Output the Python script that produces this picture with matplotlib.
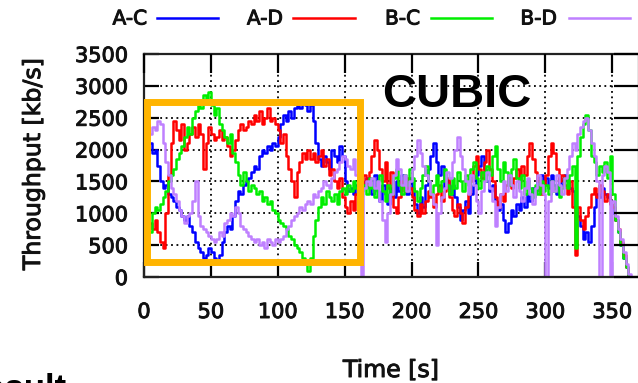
import numpy as np
import matplotlib
matplotlib.use("Agg")
import matplotlib.pyplot as plt
from matplotlib.patches import Rectangle
from matplotlib.lines import Line2D
import matplotlib.patheffects as pe

# time axis (s), 2-second resolution
time_s = list(range(0, 366, 2))

a_c = [2300, 2400, 2100, 1950, 2000, 1750, 1500, 1400, 1450, 1300,
       1250, 1200, 1100, 1050, 950, 900, 950, 800, 700, 550,
       450, 400, 300, 350, 450, 400, 300, 250, 350, 550,
       700, 800, 750, 950, 1200, 1350, 1300, 1450, 1500, 1550,
       1650, 1750, 1700, 1900, 2000, 1950, 2050, 2000, 2100, 2050,
       2200, 2400, 2550, 2450, 2600, 2500, 2650, 2700, 2650, 2750,
       2700, 2600, 2700, 2450, 2100, 1850, 1750, 1900, 1800, 1700,
       2000, 1900, 1800, 2050, 1900, 1500, 1350, 1400, 1300, 1450,
       1200, 1500, 1450, 1550, 1400, 1300, 1600, 1350, 1200, 1450,
       1300, 1150, 1400, 1250, 1500, 1350, 1600, 1450, 1300, 1550,
       1400, 1150, 1000, 1250, 1100, 1450, 1700, 1900, 2100, 1800,
       1600, 1750, 1400, 1500, 1300, 1450, 1250, 1100, 900, 1050,
       1200, 1000, 1300, 1450, 1600, 1750, 1900, 1700, 1500, 1350,
       1450, 1200, 1050, 1150, 900, 700, 850, 1050, 950, 1150,
       1050, 1250, 1100, 1300, 1200, 1400, 1350, 1500, 1600, 1450,
       1550, 1400, 1600, 1450, 1300, 1550, 1450, 1600, 1500, 1400,
       1350, 1100, 950, 800, 600, 700, 550, 800, 1100, 1300,
       1250, 1400, 1300, 1250, 1150, 1000, 900, 700, 500, 300,
       150, 0, 0]

a_d = [950, 1000, 850, 750, 900, 700, 550, 450, 1000, 1600,
       2100, 2450, 2300, 2150, 2400, 2000, 2100, 2250, 2350, 2200,
       2400, 2250, 1700, 2100, 2350, 2250, 2150, 2200, 2300, 2150,
       2200, 2050, 1900, 2000, 2150, 2300, 2400, 2300, 2350, 2450,
       2400, 2550, 2450, 2600, 2400, 2500, 2650, 2450, 2500, 2400,
       2300, 2100, 2250, 1900, 1700, 1500, 1250, 1650, 1800, 1950,
       1850, 2000, 1850, 1950, 1800, 1900, 2000, 1750, 1850, 1600,
       1700, 1500, 1400, 1550, 1250, 1100, 1000, 1200, 1050, 1300,
       1150, 1400, 1600, 1450, 1650, 1900, 2150, 2000, 1700, 1500,
       1800, 1400, 1650, 1100, 1000, 1250, 1500, 1350, 1550, 1400,
       1250, 1050, 950, 1150, 1000, 1200, 1350, 1250, 1100, 1300,
       1450, 1200, 1350, 1550, 1250, 1050, 950, 1150, 1000, 850,
       1100, 1300, 1500, 1750, 1900, 1700, 1550, 1800, 2000, 1700,
       1500, 1250, 1100, 1300, 1200, 1450, 1600, 1400, 1550, 1700,
       1500, 1750, 1600, 1900, 2100, 1850, 1650, 1500, 1300, 1450,
       1600, 1900, 2100, 1950, 1700, 1500, 1600, 1450, 1300, 1500,
       1100, 350, 1100, 900, 750, 950, 1100, 1300, 1400, 1250,
       1450, 1350, 1200, 1300, 1150, 1100, 900, 750, 550, 350,
       150, 0, 0]

b_c = [1050, 900, 700, 1000, 1100, 1050, 1150, 1250, 1350, 1500,
       1600, 1700, 1850, 1950, 2050, 2200, 2350, 2250, 2500, 2600,
       2750, 2650, 2850, 2800, 2900, 2700, 2550, 2650, 2400, 2300,
       2200, 2100, 2250, 1950, 1800, 1600, 1450, 1650, 1500, 1350,
       1450, 1400, 1300, 1350, 1200, 1250, 1150, 1200, 1050, 1000,
       900, 850, 800, 750, 650, 600, 500, 450, 400, 300,
       250, 100, 300, 650, 900, 1100, 1250, 1150, 1350, 1250,
       1200, 1300, 1150, 1350, 1400, 1300, 1450, 1350, 1500, 1400,
       1550, 1350, 1450, 1300, 1550, 1400, 1250, 1500, 1600, 1350,
       1200, 1450, 1300, 1550, 1700, 1450, 1300, 1600, 1450, 1700,
       1550, 1350, 1200, 1400, 1600, 1750, 1500, 1300, 1450, 1600,
       1350, 1500, 1700, 1450, 1300, 1550, 1400, 1650, 1500, 1350,
       1600, 1450, 1700, 1800, 1550, 1400, 1650, 1500, 1750, 1600,
       1900, 2050, 1700, 1500, 1800, 1650, 1450, 1700, 1850, 1550,
       1400, 1600, 1300, 1500, 1400, 1250, 1450, 1300, 1500, 1350,
       1450, 1300, 1500, 1350, 1450, 1250, 1400, 1550, 1400, 1600,
       1750, 450, 1900, 2200, 2400, 2550, 2300, 1900, 1800, 1600,
       1750, 1650, 1800, 1550, 1900, 1300, 900, 700, 500, 300,
       150, 0, 0]

b_d = [2300, 2150, 2250, 2350, 2300, 2450, 2400, 2100, 1800, 1600,
       1400, 1300, 1200, 1050, 950, 850, 950, 1000, 1200, 1500,
       950, 800, 750, 700, 650, 600, 550, 600, 700, 650,
       850, 900, 1000, 950, 1100, 1000, 800, 750, 700, 650,
       600, 550, 600, 500, 550, 450, 600, 550, 500, 600,
       550, 600, 650, 750, 800, 900, 950, 1000, 1100, 1050,
       1150, 1200, 1150, 1300, 1250, 1350, 1400, 1500, 1450, 1400,
       1550, 1650, 1700, 1800, 1900, 1850, 1750, 1700, 1850, 1600,
       1500, 0, 1400, 1500, 1450, 1550, 1400, 1500, 1200, 900,
       550, 1000, 1300, 1600, 1850, 1700, 1450, 1600, 1350, 1500,
       1700, 1900, 2150, 1950, 1750, 1600, 1500, 1300, 1150, 500,
       1000, 1250, 1400, 1650, 1550, 1800, 2000, 2200, 1900, 1700,
       1500, 1300, 1600, 1450, 1200, 1000, 1350, 1500, 1650, 1400,
       1200, 800, 1100, 1300, 1500, 1350, 1600, 1450, 1250, 1500,
       1350, 1200, 1400, 1550, 1300, 1150, 1400, 1600, 1450, 1300,
       0, 1200, 1500, 1350, 1600, 1450, 1300, 1550, 1700, 1900,
       2100, 2000, 2250, 2350, 2450, 2500, 2300, 2100, 1900, 1500,
       0, 1600, 1750, 1650, 0, 1200, 950, 750, 600, 400,
       200, 50, 0]

series_names = ["A-C", "A-D", "B-C", "B-D"]
series_vals = [a_c, a_d, b_c, b_d]
series_colors = ["#0000ff", "#ff0000", "#00ee00", "#bf80ff"]

y_ticks = [0, 500, 1000, 1500, 2000, 2500, 3000, 3500]
x_ticks = [0, 50, 100, 150, 200, 250, 300, 350]

W, H = 638, 383
plt.rcParams['font.family'] = ['DejaVu Sans']
fig = plt.figure(figsize=(W / 100, H / 100), dpi=100)

def fx(px):
    return px / W

def fy(py):
    return 1 - py / H

txt_fx = [pe.withStroke(linewidth=0.7, foreground='#111111')]
TXT = '#111111'

ax_left, ax_right, ax_top, ax_bot = 144, 639, 54, 277
rect = [fx(ax_left), fy(ax_bot), fx(ax_right - ax_left), (ax_bot - ax_top) / H]
ax = fig.add_axes(rect)

for name, vals, col in zip(series_names, series_vals, series_colors):
    ax.plot(time_s, vals, color=col, lw=1.8, drawstyle='steps-post', label=name)

ax.set_xlim(0, 370)
ax.set_ylim(0, 3500)
ax.set_xticks(x_ticks)
ax.set_yticks(y_ticks)
ax.set_axisbelow(True)
ax.grid(True, color='black', linestyle=(0, (1, 2)), linewidth=1.3)
for s in ax.spines.values():
    s.set_linewidth(1.6)
    s.set_color('#222222')
ax.tick_params(axis='y', direction='in', length=11, width=1.6, pad=11.5,
               labelsize=15, right=False, labelright=False, labelcolor=TXT)
ax.tick_params(axis='x', direction='in', length=11, width=1.6, pad=18,
               labelsize=15, top=False, labeltop=False, labelcolor=TXT)
for lab in ax.get_xticklabels() + ax.get_yticklabels():
    lab.set_path_effects(txt_fx)

# mirrored ticks (longer on the right/top, as in the reference)
axr = ax.twinx()
axr.set_ylim(0, 3500)
axr.set_yticks(y_ticks)
axr.tick_params(axis='y', direction='in', length=18, width=1.6, labelright=False)
axt = ax.twiny()
axt.set_xlim(0, 370)
axt.set_xticks(x_ticks)
axt.tick_params(axis='x', direction='in', length=14, width=1.6, labeltop=False)
for a in (axr, axt):
    for s in a.spines.values():
        s.set_visible(False)

fig.text(fx(33), fy(164), "Throughput [kb/s]", rotation=90, ha='center', va='center',
         fontsize=17, color=TXT, path_effects=txt_fx)
fig.text(fx(391), fy(370), "Time [s]", ha='center', va='center',
         fontsize=17, color=TXT, path_effects=txt_fx)

# legend (gnuplot style: label then sample)
leg_items = [(147, 157, 218), (283, 293, 355), (420, 431, 492), (557, 569, 630)]
for (tx, l0, l1), name, col in zip(leg_items, series_names, series_colors):
    fig.text(fx(tx), fy(19), name, ha='right', va='center', fontsize=14.5,
             color=TXT, path_effects=txt_fx)
    fig.add_artist(Line2D([fx(l0), fx(l1)], [fy(18), fy(18)], color=col, lw=1.8,
                          transform=fig.transFigure))

# annotations
fig.add_artist(Rectangle((fx(146.7), fy(262.3)), fx(360 - 146.7), (262.3 - 101.7) / H,
                         fill=False, edgecolor='#ffb400', lw=5, transform=fig.transFigure))
fig.text(fx(382), fy(107), "CUBIC", ha='left', va='baseline', fontsize=34,
         fontweight='bold', family='Liberation Sans', color='black')
fig.text(fx(67), fy(399), "Result", ha='right', va='baseline', fontsize=25,
         fontweight='bold', family='Liberation Sans', color='black')

fig.savefig("out.png", dpi=100)
